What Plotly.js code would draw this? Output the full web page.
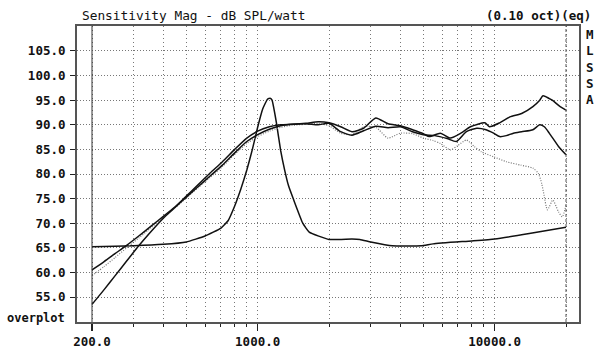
<!DOCTYPE html>
<html>
<head>
<meta charset="utf-8">
<script src="https://cdn.plot.ly/plotly-3.0.1.min.js"></script>
<style>html,body{margin:0;padding:0;background:#fff}#chart{width:600px;height:352px}</style>
</head>
<body>
<div id="chart"></div>
<script>
// ---- data ----
const fA = [200,225,250,280,315,355,400,450,500,560,630,710,800,900,1000,1120,1250,1400,1600,1800,2000,2240,2500,2800,3150,3550,4000,4500,5000,5300,5900,6500,7200,7900,9100,9500,10500,11600,13000,14500,15500,16000,16900,17500,18900,20000];
const vA = [53.5,56.5,59.3,62.3,65.4,68.3,71.0,73.3,75.5,77.8,80.2,82.5,85.0,87.3,88.7,89.6,90.0,90.1,90.3,90.6,90.4,89.6,88.6,89.3,91.4,90.2,89.8,89.0,88.2,87.6,88.3,87.3,88.3,89.6,90.4,89.6,90.4,91.6,92.3,93.7,95.0,95.9,95.4,95.0,93.7,93.0];

const fB = [200,225,250,280,315,355,400,450,500,560,630,710,800,900,1000,1120,1250,1400,1600,1800,2000,2240,2500,2800,3150,3550,4000,4500,5000,5600,6300,6900,7600,8400,9200,9900,10500,11200,12000,13000,14500,15500,16200,17000,18600,20000];
const vB = [60.5,62.2,63.8,65.5,67.4,69.4,71.4,73.4,75.3,77.4,79.6,81.8,84.3,86.6,88.0,89.1,89.8,90.1,90.2,90.0,90.3,88.6,87.9,88.8,89.7,89.4,89.6,88.6,88.0,87.8,87.2,86.6,88.6,89.3,89.0,88.3,87.6,87.8,88.3,88.6,89.0,90.0,89.6,88.3,85.6,83.9];

const fC = [200,225,250,280,315,355,400,450,500,560,630,710,800,900,1000,1120,1250,1400,1600,1800,2000,2240,2500,2800,3150,3550,4000,4500,5000,5500,5900,6500,7000,7600,8200,8800,9900,11200,12900,14500,15300,15800,16100,16700,17600,18600,19300,20000];
const vC = [59.3,61.2,63.0,65.0,67.0,69.1,71.2,73.2,75.1,77.2,79.3,81.5,84.0,86.2,87.6,88.7,89.5,89.9,90.1,90.3,89.8,88.3,88.0,89.6,89.5,87.3,88.3,88.2,87.3,86.8,86.2,84.9,85.8,86.9,85.6,84.5,83.5,82.5,81.8,81.2,80.1,78.0,76.1,72.7,74.7,72.3,71.3,73.7];

const fR = [200,250,300,400,500,600,700,750,800,850,900,950,1000,1050,1100,1130,1150,1200,1250,1300,1350,1420,1550,1650,2000,2500,2700,3000,3700,4900,5500,8000,10000,14000,20000];
const vR = [65.2,65.3,65.4,65.7,66.2,67.4,69.0,70.5,73.5,77.0,80.8,85.0,89.5,93.2,95.2,95.4,95.0,90.4,84.8,80.8,77.6,74.7,70.0,68.2,66.7,66.8,66.7,66.2,65.4,65.4,65.8,66.4,66.8,67.9,69.2];

const xMajorTicks = [200,1000,10000];
const xMajorLabels = ['200.0','1000.0','10000.0'];
const xMinorTicks = [300,400,500,600,700,800,900,2000,3000,4000,5000,6000,7000,8000,9000,20000];
const yTicks = [55,60,65,70,75,80,85,90,95,100,105];
const yLabels = yTicks.map(v => v.toFixed(1));
const fStart = 200, fEnd = 20000;

// ---- chart ----
const mono = 'DejaVu Sans Mono, Liberation Mono, monospace';
const solid = {color:'#111', width:1.5, shape:'spline', smoothing:0.6};
const traces = [
  {x:fR, y:vR, mode:'lines', line:Object.assign({}, solid, {smoothing:0.4}), hoverinfo:'skip'},
  {x:fC, y:vC, mode:'lines', line:{color:'#777', width:1.2, dash:'1px,1.5px', shape:'spline', smoothing:0.6}, hoverinfo:'skip'},
  {x:fB, y:vB, mode:'lines', line:solid, hoverinfo:'skip'},
  {x:fA, y:vA, mode:'lines', line:solid, hoverinfo:'skip'}
];

const gridCol = '#777';
const layout = {
  width:600, height:352,
  margin:{l:77, r:21, t:26, b:30, pad:0},
  paper_bgcolor:'#fff', plot_bgcolor:'#fff',
  showlegend:false,
  xaxis:{
    type:'log', range:[2.2377, 4.3559],
    tickmode:'array', tickvals:xMajorTicks, ticktext:xMajorLabels,
    ticks:'outside', ticklen:7, tickwidth:1.2, tickcolor:'#222',
    showgrid:true, gridcolor:gridCol, gridwidth:1, griddash:'1px,3px',
    minor:{tickmode:'array', tickvals:xMinorTicks, ticks:'outside', ticklen:3, tickwidth:1, tickcolor:'#222',
           showgrid:true, gridcolor:gridCol, gridwidth:1, griddash:'1px,3px'},
    showline:true, mirror:true, linecolor:'#555', linewidth:2, zeroline:false,
    tickfont:{family:mono, size:12.5, color:'#111', weight:'bold'}
  },
  yaxis:{
    range:[49.92, 110.08],
    tickmode:'array', tickvals:yTicks, ticktext:yLabels,
    ticks:'outside', ticklen:5, tickwidth:1, tickcolor:'#222',
    showgrid:true, gridcolor:gridCol, gridwidth:1, griddash:'1px,2px',
    showline:true, mirror:true, linecolor:'#555', linewidth:2, zeroline:false,
    ticklabelstandoff:2,
    tickfont:{family:mono, size:12.5, color:'#111', weight:'bold'}
  },
  shapes:[
    {type:'line', xref:'x', yref:'paper', x0:fStart, x1:fStart, y0:0, y1:1, line:{color:'#333', width:1}},
    {type:'line', xref:'x', yref:'paper', x0:fEnd, x1:fEnd, y0:0, y1:1, line:{color:'#555', width:1, dash:'3px,2px'}}
  ],
  annotations:[
    {xref:'paper', yref:'paper', x:0.006, y:1.0338, xanchor:'left', yanchor:'middle', showarrow:false,
     text:'Sensitivity Mag - dB SPL/watt', font:{family:mono, size:12.8, color:'#111'}},
    {xref:'paper', yref:'paper', x:1.0279, y:1.0338, xanchor:'right', yanchor:'middle', showarrow:false,
     text:'(0.10 oct)(eq)', font:{family:mono, size:12.5, color:'#111', weight:'bold'}},
    {xref:'paper', yref:'paper', x:-0.1434, y:0.0135, xanchor:'left', yanchor:'middle', showarrow:false,
     text:'overplot', font:{family:mono, size:12, color:'#111', weight:'bold'}},
    {xref:'paper', yref:'paper', x:1.0219, y:0.9764, xanchor:'center', yanchor:'top', showarrow:false, yshift:8,
     text:'M<br>L<br>S<br>S<br>A', align:'center', font:{family:mono, size:12.5, color:'#111', weight:'bold'}}
  ]
};
Plotly.newPlot('chart', traces, layout, {staticPlot:true, displayModeBar:false});
</script>
</body>
</html>
